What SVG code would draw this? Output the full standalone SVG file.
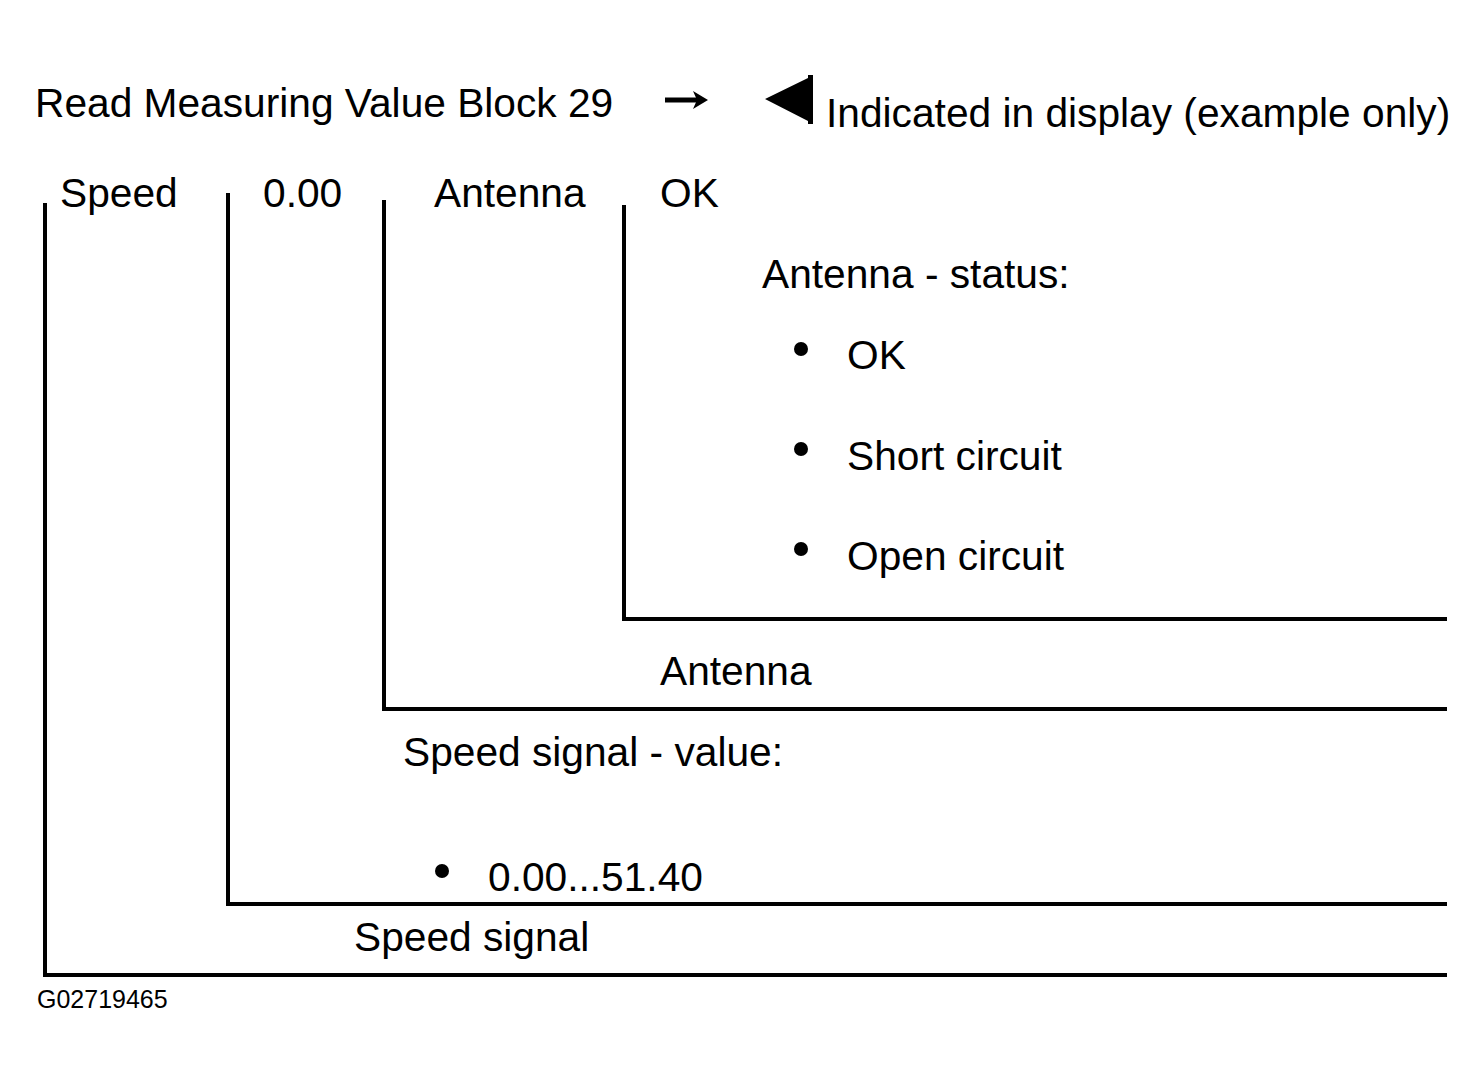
<svg xmlns="http://www.w3.org/2000/svg" width="1484" height="1084" viewBox="0 0 1484 1084">
<style>
text{font-family:"Liberation Sans",Arial,sans-serif;font-size:40.7px;fill:#000}
.ln{stroke:#000;stroke-width:4;fill:none}
.small{font-size:25px}
</style>
<rect width="1484" height="1084" fill="#fff"/>
<g id="header">
<text x="35" y="117">Read Measuring Value Block 29</text>
<line x1="665" y1="100" x2="697" y2="100" stroke="#000" stroke-width="5"/>
<polygon points="693,91 708,100 693,109 697,100"/>
<polygon points="765,99 808,78 808,75 813,75 813,124 808,124 808,121"/>
<text x="826" y="127">Indicated in display (example only)</text>
</g>
<g id="connectors">
<polyline class="ln" points="45,203 45,975 1447,975"/>
<polyline class="ln" points="228,193 228,904 1447,904"/>
<polyline class="ln" points="384,200 384,709 1447,709"/>
<polyline class="ln" points="624,205 624,619 1447,619"/>
</g>
<g id="speed"><text x="60" y="207">Speed</text></g>
<g id="speed-value"><text x="263" y="207">0.00</text></g>
<g id="antenna"><text x="434" y="207">Antenna</text></g>
<g id="antenna-value"><text x="660" y="207">OK</text></g>
<g id="antenna-status">
<text x="762" y="288">Antenna - status:</text>
<circle cx="801" cy="349" r="7"/>
<text x="847" y="369">OK</text>
<circle cx="801" cy="449" r="7"/>
<text x="847" y="470">Short circuit</text>
<circle cx="801" cy="549" r="7"/>
<text x="847" y="570">Open circuit</text>
</g>
<g id="antenna-label"><text x="660" y="685">Antenna</text></g>
<g id="speed-signal-value">
<text x="403" y="766">Speed signal - value:</text>
<circle cx="442" cy="871" r="7"/>
<text x="488" y="891">0.00...51.40</text>
</g>
<g id="speed-signal-label"><text x="354" y="951">Speed signal</text></g>
<text class="small" x="37" y="1008">G02719465</text>
</svg>
